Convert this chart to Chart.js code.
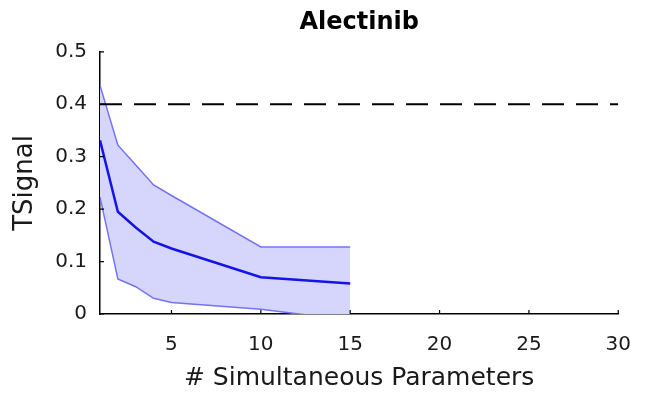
<!DOCTYPE html>
<html>
<head>
<meta charset="utf-8">
<script src="https://cdn.jsdelivr.net/npm/chart.js@4.4.1/dist/chart.umd.min.js"></script>
<style>
  html, body { margin: 0; padding: 0; background: #fff; }
  #wrap { width: 650px; height: 403px; }
</style>
</head>
<body>
<div id="wrap"><canvas id="chart" width="650" height="403"></canvas></div>
<script>
// Values
const paramCounts = [1, 2, 3, 4, 5, 10, 15];
const meanSignal  = [0.331, 0.195, 0.165, 0.138, 0.125, 0.070, 0.058];
const upperSignal = [0.436, 0.322, 0.284, 0.246, 0.226, 0.128, 0.128];
const lowerSignal = [0.223, 0.067, 0.052, 0.030, 0.022, 0.009, -0.012];

const thresholdX = [1, 30];
const thresholdY = [0.4, 0.4];

const xTicks = [5, 10, 15, 20, 25, 30];
const yTicks = [0, 0.1, 0.2, 0.3, 0.4, 0.5];

const textColor = '#1a1a1a';

function toPoints(xs, ys) {
    return xs.map((x, i) => ({ x: x, y: ys[i] }));
}

// MATLAB style inward tick marks
const innerTicks = {
    id: 'innerTicks',
    afterDatasetsDraw(chart) {
        const { ctx, chartArea, scales } = chart;
        ctx.save();
        ctx.strokeStyle = '#000';
        ctx.lineWidth = 1.2;
        ctx.beginPath();
        xTicks.forEach(v => {
            const px = scales.x.getPixelForValue(v);
            ctx.moveTo(px, chartArea.bottom);
            ctx.lineTo(px, chartArea.bottom - 4);
        });
        yTicks.forEach(v => {
            const py = scales.y.getPixelForValue(v);
            ctx.moveTo(chartArea.left, py);
            ctx.lineTo(chartArea.left + 4, py);
        });
        ctx.stroke();
        ctx.restore();
    }
};

const ctx = document.getElementById('chart').getContext('2d');

new Chart(ctx, {
    type: 'line',
    data: {
        datasets: [
            {
                label: 'Mean',
                data: toPoints(paramCounts, meanSignal),
                borderColor: '#1414e6',
                borderWidth: 2.5,
                fill: false,
                pointRadius: 0,
                tension: 0,
                order: 0
            },
            {
                label: 'Threshold',
                data: toPoints(thresholdX, thresholdY),
                borderColor: '#000',
                borderWidth: 2,
                borderDash: [22, 12],
                fill: false,
                pointRadius: 0,
                tension: 0,
                order: 1
            },
            {
                label: 'Upper',
                data: toPoints(paramCounts, upperSignal),
                borderColor: '#7373f4',
                borderWidth: 1.5,
                backgroundColor: 'rgba(214, 214, 252, 1)',
                fill: '+1',
                pointRadius: 0,
                tension: 0,
                order: 2
            },
            {
                label: 'Lower',
                data: toPoints(paramCounts, lowerSignal),
                borderColor: '#7373f4',
                borderWidth: 1.5,
                fill: false,
                pointRadius: 0,
                tension: 0,
                order: 3
            }
        ]
    },
    options: {
        responsive: false,
        animation: false,
        devicePixelRatio: 1,
        layout: {
            padding: { left: 0, right: 28, top: 0, bottom: 0 }
        },
        plugins: {
            legend: { display: false },
            tooltip: { enabled: false },
            filler: { drawTime: 'beforeDatasetsDraw' },
            title: {
                display: true,
                text: 'Alectinib',
                fullSize: false,
                color: '#000',
                font: { family: 'DejaVu Sans', size: 24, weight: 'bold' },
                padding: { top: 8, bottom: 15 }
            }
        },
        scales: {
            x: {
                type: 'linear',
                min: 1,
                max: 30,
                afterBuildTicks(scale) {
                    scale.ticks = xTicks.map(v => ({ value: v }));
                },
                afterFit(scale) {
                    scale.height = 89;
                },
                ticks: {
                    color: textColor,
                    maxRotation: 0,
                    autoSkip: false,
                    padding: 19,
                    font: { family: 'DejaVu Sans', size: 20 }
                },
                grid: { display: false, drawTicks: false },
                border: { display: true, color: '#000', width: 1.5 },
                title: {
                    display: true,
                    text: '# Simultaneous Parameters',
                    color: textColor,
                    font: { family: 'DejaVu Sans', size: 25 },
                    padding: { top: 0, bottom: 10 }
                }
            },
            y: {
                type: 'linear',
                min: 0,
                max: 0.5,
                afterBuildTicks(scale) {
                    scale.ticks = yTicks.map(v => ({ value: v }));
                },
                afterFit(scale) {
                    scale.width = 100;
                },
                ticks: {
                    color: textColor,
                    padding: 13,
                    font: { family: 'DejaVu Sans', size: 20 },
                    callback: function(value) {
                        return String(Math.round(value * 10) / 10);
                    }
                },
                grid: { display: false, drawTicks: false },
                border: { display: true, color: '#000', width: 1.5 },
                title: {
                    display: true,
                    text: 'TSignal',
                    color: textColor,
                    font: { family: 'DejaVu Sans', size: 26 },
                    padding: { top: 10, bottom: 0 }
                }
            }
        }
    },
    plugins: [innerTicks]
});
</script>
</body>
</html>
